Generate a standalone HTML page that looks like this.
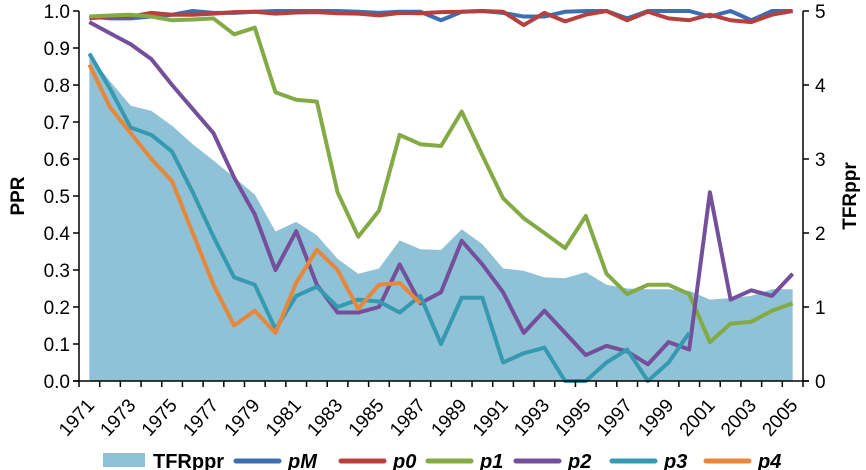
<!DOCTYPE html>
<html><head><meta charset="utf-8"><style>
body{margin:0;background:#fff;}
svg{display:block;font-family:"Liberation Sans",sans-serif;}
</style></head><body>
<svg id="chart" width="866" height="470"></svg>
<script>
const years=[];for(let y=1971;y<=2005;y++)years.push(y);
const tfrppr=[4.4,4.05,3.72,3.65,3.45,3.2,2.98,2.75,2.52,2.02,2.15,1.97,1.65,1.45,1.52,1.9,1.78,1.77,2.05,1.85,1.52,1.49,1.4,1.39,1.47,1.3,1.25,1.24,1.24,1.22,1.1,1.12,1.15,1.24,1.24];
const pM=[0.985,0.98,0.98,0.985,0.99,1.0,0.995,0.995,0.998,1.0,1.0,1.0,1.0,0.998,0.995,0.998,0.998,0.975,0.998,1.0,0.995,0.985,0.985,0.998,1.0,1.0,0.98,1.0,1.0,1.0,0.985,1.0,0.975,1.0,1.0];
const p0=[0.98,0.985,0.985,0.995,0.99,0.99,0.993,0.997,0.998,0.993,0.996,0.997,0.994,0.993,0.988,0.995,0.994,0.997,0.998,1.0,0.998,0.962,0.995,0.972,0.99,1.0,0.975,0.998,0.98,0.975,0.99,0.975,0.97,0.99,1.0,0.985];
const p1=[0.985,0.988,0.99,0.985,0.975,0.977,0.98,0.937,0.955,0.78,0.76,0.755,0.51,0.39,0.46,0.665,0.64,0.635,0.728,0.61,0.494,0.44,0.4,0.359,0.446,0.29,0.235,0.26,0.26,0.235,0.105,0.155,0.16,0.19,0.21];
const p2=[0.97,0.94,0.91,0.87,0.8,0.735,0.67,0.55,0.45,0.30,0.405,0.26,0.185,0.185,0.2,0.315,0.21,0.24,0.379,0.315,0.24,0.13,0.19,0.13,0.07,0.095,0.08,0.045,0.105,0.085,0.51,0.22,0.245,0.23,0.29];
const p3=[0.885,0.79,0.685,0.665,0.62,0.51,0.39,0.28,0.26,0.14,0.23,0.255,0.2,0.22,0.215,0.185,0.23,0.1,0.225,0.225,0.05,0.075,0.09,0,0,0.05,0.085,0,0.05,0.13];
const p4=[0.855,0.74,0.67,0.6,0.54,0.4,0.26,0.15,0.19,0.13,0.265,0.355,0.3,0.195,0.26,0.265,0.21];
const leftTicks=["0.0","0.1","0.2","0.3","0.4","0.5","0.6","0.7","0.8","0.9","1.0"];
const rightTicks=["0","1","2","3","4","5"];
const NS="http://www.w3.org/2000/svg";
const svg=document.getElementById('chart');
const X0=79,X1=803,Y0=381,Y1=11;
const bw=(X1-X0)/years.length;
const xs=i=>X0+bw*(i+0.5);
const yL=v=>Y0-(Y0-Y1)*v;
const yR=v=>Y0-(Y0-Y1)*v/5;
function el(tag,attrs,parent){const e=document.createElementNS(NS,tag);for(const k in attrs)e.setAttribute(k,attrs[k]);(parent||svg).appendChild(e);return e;}
let d=`M${xs(0)},${Y0}`;tfrppr.forEach((v,i)=>d+=` L${xs(i)},${yR(v)}`);d+=` L${xs(tfrppr.length-1)},${Y0} Z`;
const area=el('path',{d:d,fill:'#8fc2d6'});


const series=[['pM',pM,'#3d6fb0'],['p0',p0,'#b5403e'],['p1',p1,'#83aa45'],['p2',p2,'#74509a'],['p3',p3,'#3599b0'],['p4',p4,'#e6873a']];
series.forEach(([n,arr,c])=>{
  const pts=arr.slice(0,years.length).map((v,i)=>`${xs(i)},${yL(v)}`).join(' ');
  const l=el('polyline',{points:pts,fill:'none',stroke:c,'stroke-width':4,'stroke-linejoin':'round'});
  
  
});
const ax=el('g',{stroke:'#000','stroke-width':1.5,fill:'none'});


el('line',{x1:X0,y1:Y1,x2:X0,y2:Y0},ax);
el('line',{x1:X1,y1:Y1,x2:X1,y2:Y0},ax);
el('line',{x1:X0-6,y1:Y0,x2:X1+6,y2:Y0},ax);
for(let i=0;i<=years.length;i++)el('line',{x1:X0+bw*i,y1:Y0,x2:X0+bw*i,y2:Y0+6},ax);
leftTicks.forEach((t,i)=>{const y=yL(i/10);el('line',{x1:X0-6,y1:y,x2:X0,y2:y},ax);
  const tx=el('text',{x:X0-9,y:y+7,'text-anchor':'end','font-size':19});tx.textContent=t;
  
  });
rightTicks.forEach((t,i)=>{const y=yR(i);el('line',{x1:X1,y1:y,x2:X1+6,y2:y},ax);
  const tx=el('text',{x:X1+12,y:y+7,'font-size':19});tx.textContent=t;
  
  });
years.forEach((yr,i)=>{if(i%2)return;const x=xs(i)+6,y=Y0+25;
  const tx=el('text',{x:x,y:y,'text-anchor':'end','font-size':19,transform:`rotate(-48 ${x} ${y})`});tx.textContent=yr;
  
  });
const lt=el('text',{x:24,y:196,'text-anchor':'middle','font-size':19,'font-weight':'bold',transform:'rotate(-90 24 196)'});lt.textContent='PPR';


const rt=el('text',{x:856,y:196,'text-anchor':'middle','font-size':19,'font-weight':'bold',transform:'rotate(-90 856 196)'});rt.textContent='TFRppr';


const lg=el('g',{});


const sw=el('rect',{x:103,y:453,width:42,height:14,fill:'#8fc2d6'},lg);


const t0=el('text',{x:153,y:468,'font-size':20,'font-weight':'bold'},lg);t0.textContent='TFRppr';


const lx=[236,341,428,516,612,706];
series.forEach(([n,arr,c],i)=>{
  const l=el('line',{x1:lx[i],y1:461,x2:lx[i]+43,y2:461,stroke:c,'stroke-width':5,'stroke-linecap':'round'},lg);
  
  
  const t=el('text',{x:lx[i]+52,y:468,'font-size':20,'font-weight':'bold','font-style':'italic'},lg);t.textContent=n;
  
  
});
</script>
</body></html>
